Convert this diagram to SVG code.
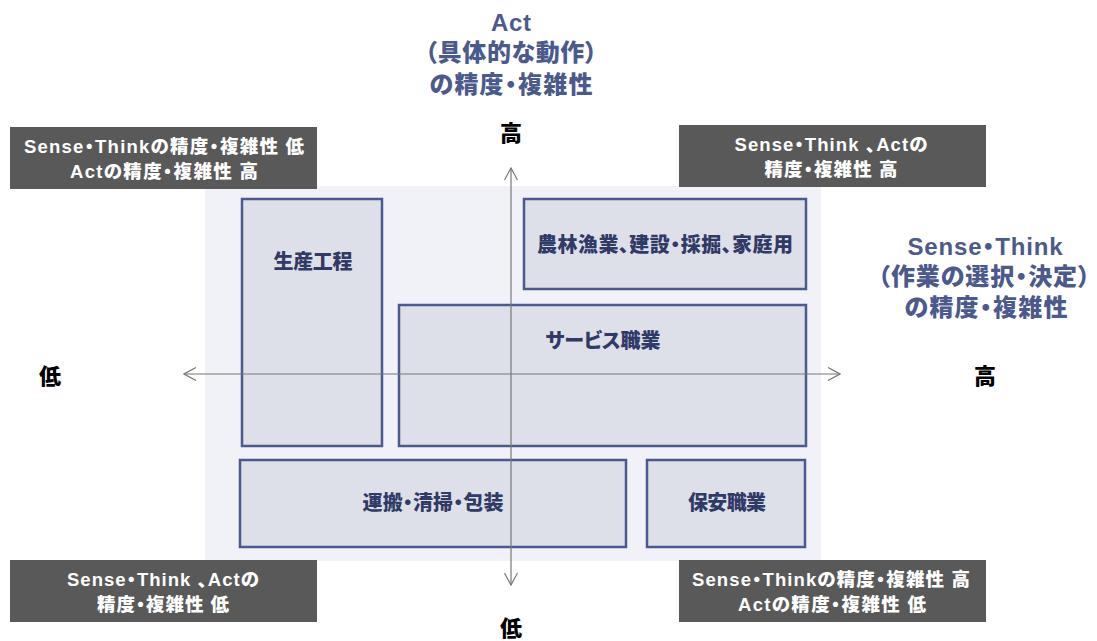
<svg xmlns="http://www.w3.org/2000/svg" width="1097" height="641" viewBox="0 0 1097 641">
<defs>
<style>
text{font-family:"Liberation Sans","Noto Sans CJK JP",sans-serif;font-weight:900;text-anchor:middle;font-feature-settings:"palt";}
.title{fill:#4a5a8c;font-size:24px;}
.axl{fill:#000;font-size:22px;}
.hdr{fill:#595959;}
.hdrt{fill:#fff;font-size:18.5px;}
.box{fill:#dde0e8;stroke:#4a5a90;stroke-width:2.5;}
.boxt{fill:#2f3a66;font-size:20px;}
.axis{stroke:#777;stroke-width:1.2;fill:none;}
</style>
<marker id="arr" viewBox="0 0 14 14" refX="13" refY="7" markerWidth="14" markerHeight="14" markerUnits="userSpaceOnUse" orient="auto">
<path d="M1,0.5 L13,7 L1,13.5" fill="none" stroke="#777" stroke-width="1.2"/>
</marker>
</defs>
<rect x="0" y="0" width="1097" height="641" fill="#fff"/>
<rect id="panel" x="205" y="186" width="616" height="375" fill="#f0f2f7"/>
<g id="n-seisan"><rect class="box" x="242" y="199" width="140" height="247"/><text class="boxt" x="313" y="269" textLength="79" lengthAdjust="spacing">生産工程</text></g>
<g id="n-nourin"><rect class="box" x="524" y="199" width="282" height="90"/><text class="boxt" x="665" y="252" textLength="256" lengthAdjust="spacing">農林漁業、建設・採掘、家庭用</text></g>
<g id="n-service"><rect class="box" x="399" y="305" width="407" height="141"/><text class="boxt" x="603" y="348" textLength="115" lengthAdjust="spacing">サービス職業</text></g>
<g id="n-unpan"><rect class="box" x="240" y="460" width="386" height="87"/><text class="boxt" x="433" y="510" textLength="141" lengthAdjust="spacing">運搬・清掃・包装</text></g>
<g id="n-hoan"><rect class="box" x="647" y="460" width="158" height="87"/><text class="boxt" x="727" y="510" textLength="78" lengthAdjust="spacing">保安職業</text></g>
<g id="connectors">
<line class="axis" x1="511" y1="374" x2="184" y2="374" marker-end="url(#arr)"/>
<line class="axis" x1="511" y1="374" x2="840" y2="374" marker-end="url(#arr)"/>
<line class="axis" x1="511" y1="374" x2="511" y2="168" marker-end="url(#arr)"/>
<line class="axis" x1="511" y1="374" x2="511" y2="585" marker-end="url(#arr)"/>
</g>
<g id="title-act">
<text class="title" x="511" y="31" textLength="40" lengthAdjust="spacing">Act</text>
<text class="title" x="511" y="61" textLength="172" lengthAdjust="spacing">（具体的な動作）</text>
<text class="title" x="511" y="93" textLength="163" lengthAdjust="spacing">の精度・複雑性</text>
</g>
<g id="title-sense">
<text class="title" x="985" y="255" textLength="155" lengthAdjust="spacing">Sense・Think</text>
<text class="title" x="984" y="285" textLength="212" lengthAdjust="spacing">（作業の選択・決定）</text>
<text class="title" x="986" y="316" textLength="163" lengthAdjust="spacing">の精度・複雑性</text>
</g>
<g id="axis-labels">
<text class="axl" x="511" y="141">高</text>
<text class="axl" x="50" y="384">低</text>
<text class="axl" x="985" y="384">高</text>
<text class="axl" x="511" y="636">低</text>
</g>
<g id="h-tl"><rect class="hdr" x="10" y="127" width="307" height="62"/>
<text class="hdrt" x="164" y="152.5" textLength="280" lengthAdjust="spacing">Sense・Thinkの精度・複雑性 低</text>
<text class="hdrt" x="164" y="177.5" textLength="188" lengthAdjust="spacing">Actの精度・複雑性 高</text></g>
<g id="h-tr"><rect class="hdr" x="679" y="125" width="307" height="62"/>
<text class="hdrt" x="831" y="150.5" textLength="193" lengthAdjust="spacing">Sense・Think 、Actの</text>
<text class="hdrt" x="831" y="175.5" textLength="133" lengthAdjust="spacing">精度・複雑性 高</text></g>
<g id="h-bl"><rect class="hdr" x="10" y="560" width="307" height="62"/>
<text class="hdrt" x="163" y="585.5" textLength="192" lengthAdjust="spacing">Sense・Think 、Actの</text>
<text class="hdrt" x="163" y="610.5" textLength="132" lengthAdjust="spacing">精度・複雑性 低</text></g>
<g id="h-br"><rect class="hdr" x="679" y="560" width="307" height="62"/>
<text class="hdrt" x="831" y="585.5" textLength="278" lengthAdjust="spacing">Sense・Thinkの精度・複雑性 高</text>
<text class="hdrt" x="832" y="610.5" textLength="188" lengthAdjust="spacing">Actの精度・複雑性 低</text></g>
</svg>
